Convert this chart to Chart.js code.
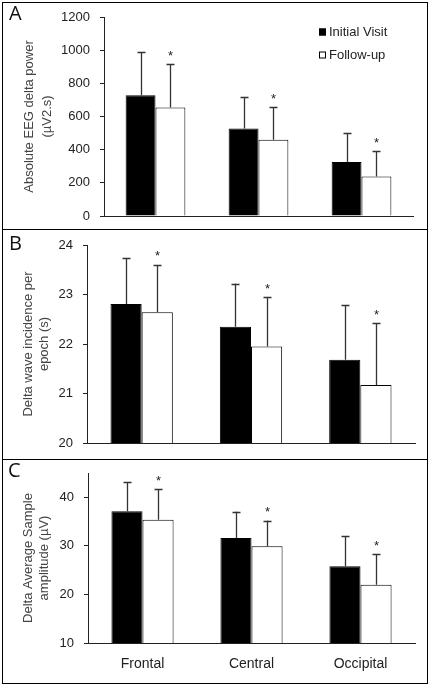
<!DOCTYPE html>
<html>
<head>
<meta charset="utf-8">
<script src="https://cdn.jsdelivr.net/npm/chart.js@4"></script>
<style>
  html, body { margin:0; padding:0; background:#fff; }
  body { width:432px; height:690px; position:relative; overflow:hidden; }
  .panel { position:absolute; box-sizing:border-box; border:1px solid #000; }
  canvas { position:absolute; }
  .letter { position:absolute; font-family:"Open Sans", "Liberation Sans", sans-serif; font-size:20px; color:#111; line-height:1; }
</style>
</head>
<body>
<div class="panel" style="left:2px;top:2px;width:426px;height:228px;"></div>
<div class="panel" style="left:2px;top:229px;width:426px;height:231px;"></div>
<div class="panel" style="left:2px;top:459px;width:426px;height:225px;"></div>
<canvas id="cA" width="424" height="226" style="left:3px;top:3px;"></canvas>
<canvas id="cB" width="424" height="228" style="left:3px;top:230px;"></canvas>
<canvas id="cC" width="424" height="223" style="left:3px;top:460px;"></canvas>
<div class="letter" style="left:9px;top:3px;">A</div>
<div class="letter" style="left:9px;top:233px;">B</div>
<div class="letter" style="left:8px;top:460px;">C</div>
<script>
// ---- data ----
const categories = ['Frontal', 'Central', 'Occipital'];
const seriesNames = ['Initial Visit', 'Follow-up'];

const powerInitial   = [728, 528, 325];
const powerInitialSD = [260, 188, 176];
const powerFollow    = [655, 460, 238];
const powerFollowSD  = [260, 195, 154];

const incInitial   = [22.81, 22.35, 21.68];
const incInitialSD = [0.92, 0.87, 1.10];
const incFollow    = [22.64, 21.95, 21.17];
const incFollowSD  = [0.96, 1.00, 1.25];

const ampInitial   = [37.1, 31.6, 25.8];
const ampInitialSD = [6.05, 5.45, 6.2];
const ampFollow    = [35.4, 29.9, 22.0];
const ampFollowSD  = [6.3, 5.3, 6.3];

const yTitleA = ['Absolute EEG delta power', '(\u00b5V2.s)'];
const yTitleB = ['Delta wave incidence per', 'epoch (s)'];
const yTitleC = ['Delta Average Sample', 'amplitude (\u00b5V)'];

const FONT = '"Liberation Sans", Arial, sans-serif';
const AXIS = '#222';

// error bars + significance asterisks
const errorBarPlugin = {
  id: 'errorBars',
  afterDatasetsDraw(chart) {
    const ctx = chart.ctx; const y = chart.scales.y;
    ctx.save(); ctx.strokeStyle = '#333'; ctx.lineWidth = 1.3;
    chart.data.datasets.forEach((ds, di) => {
      chart.getDatasetMeta(di).data.forEach((bar, i) => {
        const top = y.getPixelForValue(ds.data[i] + ds.sd[i]);
        const x = Math.round(bar.x) + 0.5;
        ctx.beginPath(); ctx.moveTo(x, bar.y); ctx.lineTo(x, top);
        ctx.moveTo(x - 4, Math.round(top) + 0.5); ctx.lineTo(x + 4, Math.round(top) + 0.5); ctx.stroke();
        if (ds.star) {
          ctx.fillStyle = '#222'; ctx.font = '13px ' + FONT;
          ctx.textAlign = 'center'; ctx.textBaseline = 'middle';
          ctx.fillText('*', x, top - 8);
        }
      });
    });
    ctx.restore();
  }
};

// vertical legend (panel A)
const legendPlugin = {
  id: 'vlegend',
  afterDraw(chart, args, opts) {
    if (!opts || !opts.show) return;
    const ctx = chart.ctx; ctx.save(); ctx.font = '13px ' + FONT;
    ctx.textBaseline = 'middle'; ctx.textAlign = 'left';
    chart.data.datasets.forEach((ds, i) => {
      const yy = opts.y + i * opts.gap;
      ctx.fillStyle = ds.backgroundColor; ctx.fillRect(opts.x, yy - 3.5, 7, 7);
      ctx.strokeStyle = '#000'; ctx.lineWidth = 1; ctx.strokeRect(opts.x + 0.5, yy - 3.5 + 0.5, 6, 6);
      ctx.fillStyle = '#222'; ctx.fillText(ds.label, opts.x + 10, yy + 0.5);
    });
    ctx.restore();
  }
};

function makeChart(id, cfg) {
  const datasets = [
    { label: seriesNames[0], data: cfg.a, sd: cfg.aSD, star: false, backgroundColor: '#000', borderColor: '#000', borderWidth: 1 },
    { label: seriesNames[1], data: cfg.b, sd: cfg.bSD, star: true, backgroundColor: '#fff', borderColor: '#000', borderWidth: 1 }
  ];
  const lay = { xHeight: 20, yWidth: 80, top: 10, right: 10 };
  const chart = new Chart(document.getElementById(id), {
    type: 'bar',
    data: { labels: categories, datasets },
    plugins: [errorBarPlugin, legendPlugin],
    options: {
      responsive: false, animation: false,
      layout: { padding: { left: 0, right: 10, top: 10, bottom: 0 } },
      datasets: { bar: { categoryPercentage: cfg.catPct, barPercentage: 1.0 } },
      plugins: { legend: { display: false }, tooltip: { enabled: false }, vlegend: cfg.legend || { show: false } },
      scales: {
        x: { grid: { display: false, drawTicks: false }, border: { display: true, color: AXIS, width: 1 },
             ticks: { display: cfg.showX, color: '#222', padding: cfg.xPad || 10, font: { family: FONT, size: 14 } },
             afterFit: s => { s.height = lay.xHeight; s.paddingLeft = 0; s.paddingRight = 0; } },
        y: { min: cfg.min, max: cfg.max,
             grid: { display: true, drawOnChartArea: false, drawTicks: true, tickLength: 4, color: AXIS },
             border: { display: true, color: AXIS, width: 1 },
             ticks: { stepSize: cfg.step, color: '#222', padding: 10, font: { family: FONT, size: 13 }, callback: v => String(v) },
             afterBuildTicks: s => { s.ticks = s.ticks.filter(t => Math.abs(t.value / cfg.step - Math.round(t.value / cfg.step)) < 1e-6); },
             afterFit: s => { s.width = lay.yWidth; s.paddingTop = 0; s.paddingBottom = 0; },
             title: { display: true, text: cfg.title, color: '#444',
                      font: { family: FONT, size: 13, lineHeight: cfg.titleLH },
                      padding: { top: cfg.titlePad, bottom: 0 } } }
      }
    }
  });
  // place the plot frame where the reference has it (canvas coordinates)
  const t = cfg.area;
  for (let k = 0; k < 4; k++) {
    const ca = chart.chartArea;
    lay.top += t.top - ca.top;
    lay.right += ca.right - t.right;
    lay.xHeight += ca.bottom - t.bottom;
    lay.yWidth += t.left - ca.left;
    chart.options.layout.padding = { left: 0, right: lay.right, top: lay.top, bottom: 0 };
    chart.update();
  }
  return chart;
}

makeChart('cA', { a: powerInitial, aSD: powerInitialSD, b: powerFollow, bSD: powerFollowSD,
  min: 0, max: 1200, step: 200, title: yTitleA, titleLH: 1.4, titlePad: 17,
  area: { left: 101, top: 14, right: 410, bottom: 213 }, catPct: 0.58, showX: false,
  legend: { show: true, x: 316, y: 29, gap: 23 } });
makeChart('cB', { a: incInitial, aSD: incInitialSD, b: incFollow, bSD: incFollowSD,
  min: 20, max: 24, step: 1, title: yTitleB, titleLH: 1.25, titlePad: 17,
  area: { left: 84, top: 15, right: 412, bottom: 213 }, catPct: 0.57, showX: false });
makeChart('cC', { a: ampInitial, aSD: ampInitialSD, b: ampFollow, bSD: ampFollowSD,
  min: 10, max: 45, step: 10, title: yTitleC, titleLH: 1.25, titlePad: 17,
  area: { left: 85, top: 13, right: 412, bottom: 183 }, catPct: 0.57, showX: true, xPad: 13 });
</script>
</body>
</html>
